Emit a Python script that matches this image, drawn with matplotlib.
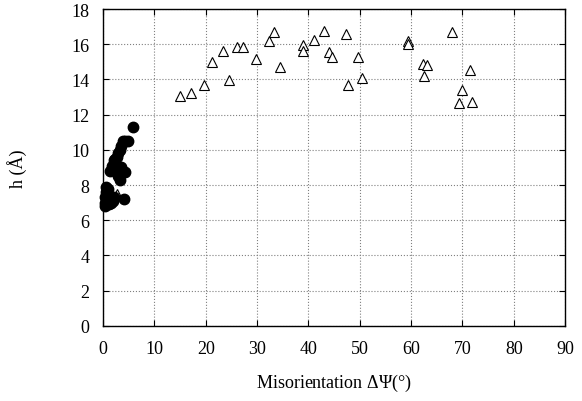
import matplotlib
matplotlib.use('Agg')
import matplotlib.pyplot as plt

# filled circles: low-angle cluster
circ_x = [0.3, 0.4, 0.4, 0.5, 0.6, 0.9, 1.0, 1.2, 1.6, 2.0, 2.2, 4.0,
          1.4, 1.8, 2.1, 2.4, 2.8, 3.0, 3.3, 3.6, 3.9, 4.3, 4.9, 5.8,
          3.0, 3.3, 4.3, 3.6, 2.6]
circ_y = [6.8, 7.0, 7.3, 7.6, 7.9, 7.8, 7.2, 6.9, 7.0, 7.1, 7.3, 7.2,
          8.8, 9.1, 9.4, 9.5, 9.6, 9.8, 10.0, 10.2, 10.5, 10.5, 10.5, 11.3,
          8.5, 8.3, 8.75, 9.0, 9.0]

# open triangles
tri_x = [2.7, 15.0, 17.2, 19.6, 21.3, 23.4, 24.6, 26.1, 27.3, 29.7, 32.4,
         33.3, 34.5, 39.0, 39.0, 41.0, 43.1, 44.1, 44.6, 47.3, 47.8, 49.6,
         50.4, 59.4, 59.4, 62.3, 63.1, 62.5, 67.9, 71.5, 70.0, 69.3, 71.9]
tri_y = [7.5, 13.08, 13.24, 13.7, 15.0, 15.6, 13.96, 15.87, 15.83, 15.15, 16.2,
         16.7, 14.68, 15.97, 15.6, 16.23, 16.74, 15.57, 15.28, 16.6, 13.68, 15.28,
         14.1, 16.2, 16.0, 14.87, 14.8, 14.2, 16.7, 14.56, 13.4, 12.65, 12.7]

plt.rc('font', family='Liberation Serif')
params = {'mathtext.default': 'regular'}
plt.rcParams.update(params)

fig = plt.figure()
fig.set_size_inches([5.82, 4.02])
ax = fig.add_axes([0.177, 0.187, 0.794, 0.788])

ax.plot(tri_x, tri_y, linestyle='none', marker='^', markersize=6.5,
        markerfacecolor='white', markeredgecolor='black', markeredgewidth=0.8)
ax.plot(circ_x, circ_y, linestyle='none', marker='o', markersize=7.5,
        color='black', clip_on=False)

ax.set_xlim(0, 90)
ax.set_ylim(0, 18)
ax.set_xticks(range(0, 91, 10))
ax.set_yticks(range(0, 19, 2))
ax.grid(True, linestyle=':', color='gray', linewidth=0.8)

ax.set_xlabel(r'Misorientation $\Delta\Psi(\degree)$', fontsize=13, labelpad=11)
ax.set_ylabel('h (Å)', fontsize=13, labelpad=32)

ax.tick_params(direction='in', labelsize=13, length=4)
ax.yaxis.set_ticks_position('both')
ax.xaxis.set_ticks_position('both')
ax.tick_params(axis='x', pad=10)
ax.tick_params(axis='y', pad=10)
for s in ax.spines.values():
    s.set_linewidth(1.0)

plt.savefig('out.png', dpi=100)
